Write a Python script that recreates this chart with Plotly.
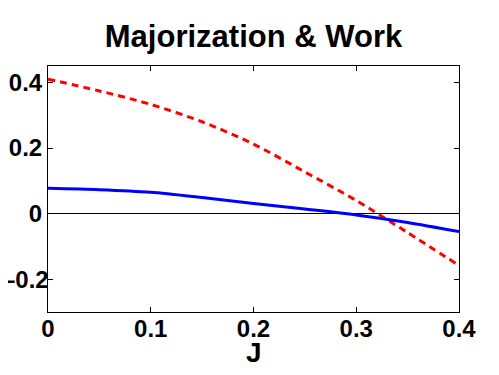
import plotly.graph_objects as go

J = [0.0, 0.05, 0.1, 0.15, 0.2, 0.25, 0.3, 0.35, 0.4]
work_red = [0.41, 0.374, 0.333, 0.280, 0.212, 0.127, 0.040, -0.058, -0.158]
work_blue = [0.077, 0.073, 0.065, 0.049, 0.031, 0.014, -0.004, -0.027, -0.055]
x_ticks = [0, 0.1, 0.2, 0.3, 0.4]
x_tick_labels = ["0", "0.1", "0.2", "0.3", "0.4"]
y_ticks = [-0.2, 0, 0.2, 0.4]
y_tick_labels = ["", "0", "0.2", "0.4"]
neg_label = "\u20130.2"
neg_value = -0.2

fig = go.Figure()
fig.add_trace(go.Scatter(x=J, y=work_red, mode="lines", line=dict(color="#ff0000", width=3, dash="7px,5px", shape="spline", smoothing=0.8)))
fig.add_trace(go.Scatter(x=J, y=work_blue, mode="lines", line=dict(color="#0000ff", width=3, shape="spline", smoothing=0.8)))

font = dict(family="Liberation Sans, Arial, sans-serif", color="black", weight="bold")
fig.update_layout(
    width=491, height=367,
    margin=dict(l=40, r=40, t=58, b=63),
    paper_bgcolor="white", plot_bgcolor="white",
    showlegend=False,
    title=dict(text="Majorization & Work", x=0.5, xanchor="center", y=0.922, yanchor="middle",
               font=dict(size=31, **font)),
    annotations=[
        dict(text="J", xref="paper", yref="paper", x=0.5, y=-0.0935, xanchor="center", yanchor="top",
             showarrow=False, font=dict(size=28, **font)),
        dict(text=neg_label, xref="paper", yref="y", x=0.006, y=neg_value, xanchor="right", yanchor="middle",
             showarrow=False, font=dict(size=24, **font), borderpad=0),
    ],
)
fig.update_xaxes(range=[0, 0.4], tickvals=x_ticks, ticktext=x_tick_labels, showline=True, linecolor="black", linewidth=1,
                 mirror="ticks", ticks="inside", ticklen=5, tickcolor="black", showgrid=False, zeroline=False,
                 tickfont=dict(size=24, **font), automargin=False, ticklabelstandoff=-5)
fig.update_yaxes(range=[-0.3, 0.45], tickvals=y_ticks, ticktext=y_tick_labels, showline=True, linecolor="black", linewidth=1,
                 mirror="ticks", ticks="inside", ticklen=5, tickcolor="black", showgrid=False,
                 zeroline=True, zerolinecolor="black", zerolinewidth=1,
                 tickfont=dict(size=24, **font), automargin=False)
fig.write_html("out.html")
